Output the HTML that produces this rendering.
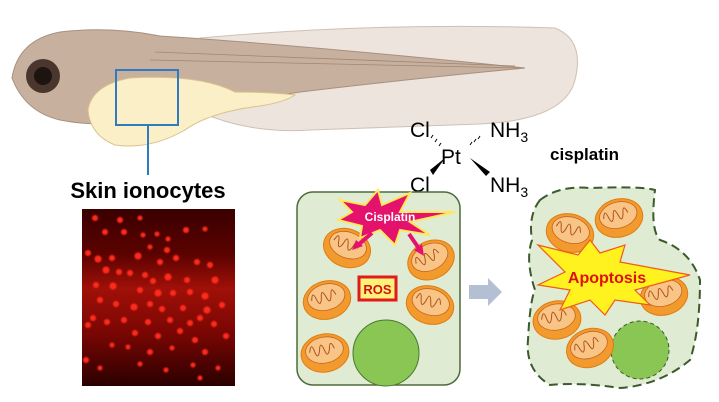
<!DOCTYPE html>
<html><head><style>body{margin:0;background:#fff}svg{display:block}</style></head><body>
<svg width="719" height="402" viewBox="0 0 719 402" xmlns="http://www.w3.org/2000/svg" font-family="Liberation Sans, sans-serif">
<defs>
<linearGradient id="rg" x1="0" y1="0" x2="0" y2="1">
<stop offset="0" stop-color="#3a0000"/><stop offset="0.25" stop-color="#5a0200"/><stop offset="0.45" stop-color="#a01008"/><stop offset="0.7" stop-color="#7a0603"/><stop offset="1" stop-color="#2a0000"/></linearGradient>
<filter id="bl"><feGaussianBlur stdDeviation="0.8"/></filter>
<g id="mito"><ellipse cx="0" cy="0" rx="24" ry="19" fill="#f39a2e" stroke="#e07d10"/><ellipse cx="0" cy="-3" rx="19" ry="13" fill="#f8c587" stroke="#c8651a" stroke-width="0.8"/><path d="M-15,-3 q3,-11 5,0 q2,9 5,0 q2,-11 5,0 q2,9 5,0 q2,-11 5,0" fill="none" stroke="#b0501a" stroke-width="1"/></g>
</defs>
<!-- fish -->
<path d="M200,38 Q380,22 555,28 Q585,40 575,80 Q565,120 480,124 L310,130 Q250,134 200,112 Z" fill="#ece4dd" stroke="#cfc0b4"/>
<path d="M12,78 Q18,40 60,32 Q110,26 160,36 Q300,45 525,68 Q400,80 300,92 Q250,100 220,106 Q190,116 150,120 Q100,128 60,120 Q25,112 12,78 Z" fill="#c7b09d" stroke="#a89080"/>
<path d="M88,110 Q92,85 130,78 Q200,74 235,92 Q270,92 295,95 Q285,102 260,106 Q210,112 185,130 Q150,150 115,145 Q90,135 88,110Z" fill="#fbefc7" stroke="#d8c28a"/>
<path d="M150,60 L520,68 M155,52 L515,66" stroke="#a08775" fill="none" stroke-width="0.8"/>
<circle cx="43" cy="76" r="17" fill="#4a362d"/><circle cx="43" cy="76" r="9" fill="#1d1410"/>
<rect x="116" y="70" width="62" height="55" fill="none" stroke="#2f7bbd" stroke-width="2"/>
<line x1="148" y1="125" x2="148" y2="175" stroke="#2f7bbd" stroke-width="2"/>
<text x="148" y="198" font-size="22" font-weight="bold" text-anchor="middle" fill="#000">Skin ionocytes</text>
<!-- red image -->
<rect x="82" y="209" width="153" height="177" fill="url(#rg)"/>
<g fill="#ff2a1a" filter="url(#bl)">
<circle cx="95" cy="218" r="3"/><circle cx="120" cy="220" r="3"/><circle cx="140" cy="218" r="2.5"/><circle cx="105" cy="232" r="3"/><circle cx="124" cy="232" r="3"/><circle cx="143" cy="235" r="2.5"/><circle cx="157" cy="234" r="2.5"/><circle cx="168" cy="239" r="2.5"/><circle cx="186" cy="230" r="3"/><circle cx="205" cy="229" r="2.5"/><circle cx="150" cy="247" r="2.5"/><circle cx="167" cy="250" r="3"/><circle cx="88" cy="253" r="3"/><circle cx="98" cy="259" r="3.5"/><circle cx="112" cy="258" r="3"/><circle cx="138" cy="256" r="3.5"/><circle cx="160" cy="262" r="3"/><circle cx="176" cy="258" r="3"/><circle cx="197" cy="262" r="3"/><circle cx="210" cy="265" r="3"/><circle cx="106" cy="270" r="3.5"/><circle cx="119" cy="272" r="3"/><circle cx="130" cy="273" r="3"/><circle cx="145" cy="275" r="3"/><circle cx="153" cy="281" r="3"/><circle cx="168" cy="277" r="3.5"/><circle cx="187" cy="280" r="3"/><circle cx="215" cy="280" r="3.5"/><circle cx="96" cy="285" r="3"/><circle cx="113" cy="286" r="3.5"/><circle cx="140" cy="290" r="3"/><circle cx="158" cy="293" r="3.5"/><circle cx="173" cy="293" r="3"/><circle cx="190" cy="292" r="3"/><circle cx="205" cy="296" r="3.5"/><circle cx="100" cy="300" r="3"/><circle cx="116" cy="304" r="3"/><circle cx="134" cy="307" r="3.5"/><circle cx="150" cy="304" r="3"/><circle cx="162" cy="309" r="3"/><circle cx="183" cy="308" r="3"/><circle cx="207" cy="310" r="3.5"/><circle cx="222" cy="305" r="3"/><circle cx="93" cy="318" r="3"/><circle cx="107" cy="322" r="3"/><circle cx="124" cy="320" r="3"/><circle cx="148" cy="322" r="3"/><circle cx="170" cy="320" r="3"/><circle cx="190" cy="323" r="3"/><circle cx="200" cy="318" r="3"/><circle cx="214" cy="324" r="3"/><circle cx="88" cy="325" r="3"/><circle cx="135" cy="333" r="3"/><circle cx="158" cy="336" r="3"/><circle cx="180" cy="331" r="3"/><circle cx="195" cy="340" r="3"/><circle cx="226" cy="336" r="3"/><circle cx="112" cy="345" r="2.5"/><circle cx="128" cy="347" r="2.5"/><circle cx="150" cy="352" r="3"/><circle cx="172" cy="348" r="2.5"/><circle cx="205" cy="352" r="3"/><circle cx="86" cy="360" r="3"/><circle cx="100" cy="368" r="2.5"/><circle cx="140" cy="364" r="2.5"/><circle cx="166" cy="370" r="2.5"/><circle cx="193" cy="365" r="2.5"/><circle cx="218" cy="368" r="2.5"/><circle cx="200" cy="378" r="2.5"/>
</g>
<!-- cisplatin -->
<g font-size="21" fill="#000">
<text x="410" y="137">Cl</text><text x="441" y="164">Pt</text><text x="490" y="137">NH<tspan font-size="14" dy="5">3</tspan></text>
<text x="410" y="192">Cl</text><text x="490" y="192">NH<tspan font-size="14" dy="5">3</tspan></text>
</g>
<path d="M430,170 L445,158 L433,175Z" fill="#000"/><path d="M470,158 L490,172 L486,176Z" fill="#000"/>
<g stroke="#000" stroke-width="1"><line x1="431" y1="138" x2="433" y2="135"/><line x1="435" y1="142" x2="437" y2="139"/><line x1="439" y1="146" x2="441" y2="143"/><line x1="472" y1="142" x2="470" y2="145"/><line x1="476" y1="139" x2="474" y2="142"/><line x1="480" y1="136" x2="478" y2="139"/></g>
<text x="550" y="160" font-size="17" font-weight="bold">cisplatin</text>
<!-- left cell -->
<rect x="297" y="192" width="163" height="193" rx="16" fill="#dfebd2" stroke="#4d6b3a" stroke-width="1.5"/>
<circle cx="386" cy="353" r="33" fill="#8ac653" stroke="#4a7a30"/>
<use href="#mito" transform="translate(347,248) rotate(20)"/>
<use href="#mito" transform="translate(431,260) rotate(-25)"/>
<use href="#mito" transform="translate(327,300) rotate(-15)"/>
<use href="#mito" transform="translate(430,305) rotate(15)"/>
<use href="#mito" transform="translate(325,353) rotate(-10)"/>
<rect x="359" y="277" width="37" height="23" fill="#fff27a" stroke="#e01b1b" stroke-width="3"/>
<text x="377.5" y="294" font-size="13" font-weight="bold" fill="#d01010" text-anchor="middle">ROS</text>
<path d="M340,200 L365,205 L378,190 L382,205 L410,193 L400,212 L455,212 L410,222 L430,235 L400,230 L395,245 L380,230 L360,238 L362,226 L338,220 L352,212Z" fill="#e4126c" stroke="#ffe85a" stroke-width="2"/>
<text x="390" y="221" font-size="12" font-weight="bold" fill="#fff" text-anchor="middle">Cisplatin</text>
<path d="M372,233 L358,245" stroke="#e4126c" stroke-width="4"/><path d="M352,250 L356,240 L363,246Z" fill="#e4126c"/>
<path d="M409,234 L420,250" stroke="#e4126c" stroke-width="4"/><path d="M424,256 L414,250 L422,244Z" fill="#e4126c"/>
<!-- arrow -->
<path d="M469,285 L488,285 L488,278 L502,292 L488,306 L488,299 L469,299Z" fill="#b3bfd2"/>
<!-- right cell -->
<path d="M540,200 Q560,185 590,188 Q640,186 655,190 Q650,230 660,240 Q690,250 700,280 Q700,330 690,360 Q660,385 620,388 Q580,382 550,385 Q525,370 528,340 Q530,300 535,290 Q525,260 532,240 Q528,215 540,200Z" fill="#dfebd2" stroke="#3c5a2c" stroke-width="2" stroke-dasharray="9,5"/>
<circle cx="640" cy="350" r="29" fill="#8ac653" stroke="#3c5a2c" stroke-dasharray="4,3"/>
<use href="#mito" transform="translate(570,233) rotate(15)"/>
<use href="#mito" transform="translate(619,218) rotate(-15)"/>
<use href="#mito" transform="translate(664,296) rotate(-15)"/>
<use href="#mito" transform="translate(557,320) rotate(-10)"/>
<use href="#mito" transform="translate(590,348) rotate(-20)"/>
<path d="M538,245 L578,255 L590,240 L600,253 L625,245 L620,262 L690,275 L635,290 L650,305 L615,300 L605,315 L590,300 L560,310 L570,290 L538,285 L565,272Z" fill="#fff21f" stroke="#f05a1a" stroke-width="1.2"/>
<text x="607" y="283" font-size="16" font-weight="bold" fill="#e01010" text-anchor="middle">Apoptosis</text>
</svg>
</body></html>
